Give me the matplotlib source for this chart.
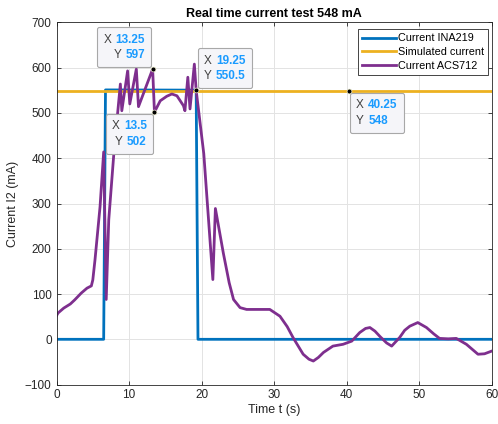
import matplotlib
matplotlib.use("Agg")
import matplotlib.pyplot as plt
from matplotlib.offsetbox import TextArea, HPacker, VPacker, AnnotationBbox

plt.rcParams['font.family'] = ['Liberation Sans', 'DejaVu Sans']

# INA219 measured current (step signal)
ina_t = [0, 6.5, 6.75, 19.25, 19.5, 60]
ina_i = [0, 0, 551, 550.5, 0, 0]

# simulated current, constant
sim_t = [0, 60]
sim_i = [548, 548]

acs_t = [0, 0.2, 1.0, 1.9, 2.5, 3.4, 4.2, 4.8, 5.0, 5.3, 6.0, 6.5, 6.85, 7.2, 7.9,
         8.8, 9.0, 9.8, 10.1, 11.0, 11.3, 13.25, 13.5, 14.3, 15.2, 15.9, 16.6, 17.5,
         17.7, 18.1, 18.4, 19.0, 19.25, 20.3, 21.55, 21.9, 23.0, 23.8, 24.4, 25.3,
         26.2, 27.5, 29.4, 30.8, 31.8, 32.6, 34.0, 34.8, 35.4, 36.1, 36.8, 38.1,
         39.5, 40.7, 41.8, 42.6, 43.2, 43.9, 44.6, 45.5, 46.2, 47.3, 48.0, 48.7,
         49.8, 51.0, 52.0, 52.8, 54.0, 55.1, 56.5, 57.3, 58.1, 59.0, 60]
acs_i = [52, 58, 69, 78, 87, 102, 113, 118, 131, 175, 293, 414, 88, 264, 410,
         564, 505, 593, 520, 597, 514, 597, 502, 527, 537, 542, 538, 516,
         505, 579, 509, 608, 550, 410, 132, 289, 190, 125, 88, 70,
         66, 66, 66, 51, 28, 4, -33, -44, -48, -40, -29, -15,
         -11, -4, 15, 24, 26, 18, 6, -8, -15, 4, 20, 29,
         37, 26, 12, 2, 1, 2, -11, -22, -33, -32, -26]

# data tips
tip_x = [13.25, 13.5, 19.25, 40.25]
tip_y = [597, 502, 550.5, 548]
tip_txt = ['13.25', '13.5', '19.25', '40.25']
tip_ytxt = ['597', '502', '550.5', '548']

fig = plt.figure(figsize=(4.98, 4.24), dpi=100)
ax = fig.add_axes([0.1135, 0.093, 0.874, 0.854])

ax.plot(ina_t, ina_i, color='#0072BD', lw=2, label='Current INA219')
ax.plot(sim_t, sim_i, color='#EDB120', lw=2, label='Simulated current')
ax.plot(acs_t, acs_i, color='#7E2F8E', lw=2, label='Current ACS712')

ax.set_xlim(0, 60)
ax.set_ylim(-100, 700)
ax.set_xticks(range(0, 61, 10))
ax.set_yticks(range(-100, 701, 100))
ax.grid(True, color='#e3e3e3', lw=0.7)
ax.set_axisbelow(True)
ax.tick_params(direction='in', top=True, right=True, length=3, width=0.6,
               labelsize=8.5, colors='#262626')
for s in ax.spines.values():
    s.set_color('#262626')
    s.set_linewidth(0.6)

ax.set_title('Real time current test 548 mA', fontsize=9, fontweight='bold', pad=4)
ax.set_xlabel('Time t (s)', fontsize=9, color='#262626', labelpad=2)
ax.set_ylabel('Current I2 (mA)', fontsize=9, color='#262626', labelpad=4)

leg = ax.legend(loc='upper right', bbox_to_anchor=(0.992, 0.982), fontsize=7.8,
                handlelength=3.1, fancybox=False, edgecolor='#262626', framealpha=1,
                borderpad=0.4, labelspacing=0.35, handletextpad=0.2, borderaxespad=0)
leg.get_frame().set_linewidth(0.6)

# data tip boxes
align = [(1, 0), (1, 1), (0, 0), (0, 1)]
offs = [(-5.5, 5.8), (-5.5, -5.8), (5.5, 5.8), (5.5, -5.8)]
for k in range(len(tip_x)):
    rows = []
    for lab, val in (('X', tip_txt[k]), ('Y', tip_ytxt[k])):
        rows.append(HPacker(children=[
            TextArea(lab, textprops=dict(color='#404040', fontsize=8.5)),
            TextArea(val, textprops=dict(color='#1a9bff', fontsize=8.5, fontweight='bold'))],
            align='baseline', pad=0, sep=3))
    side = 'right' if align[k][0] == 1 else 'left'
    box = VPacker(children=rows, align=side, pad=0, sep=2.5)
    ab = AnnotationBbox(box, (tip_x[k], tip_y[k]), xybox=offs[k], xycoords='data',
                        boxcoords='offset points', box_alignment=align[k],
                        frameon=True, pad=0.45,
                        bboxprops=dict(boxstyle='round,pad=0.45,rounding_size=0.15',
                                       fc='#f5f5f9', ec='#a8a8a8', lw=0.8))
    ax.add_artist(ab)
    ax.plot(tip_x[k], tip_y[k], 'o', color='black', ms=3.5, mec='#f0f0d0', mew=0.5, zorder=5)

fig.savefig('out.png', dpi=100)
